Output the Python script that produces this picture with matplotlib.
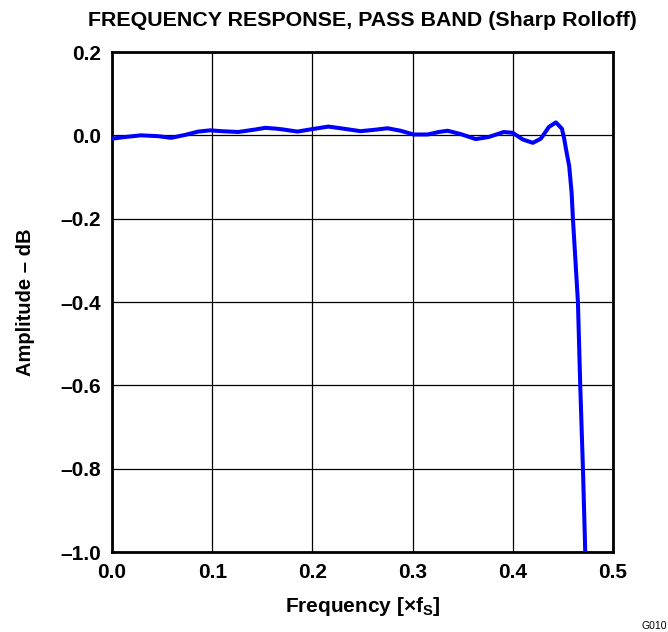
import matplotlib
matplotlib.use('Agg')
from matplotlib import pyplot as plt

# values
freq = [0.000, 0.013, 0.029, 0.046, 0.059, 0.073, 0.086, 0.098, 0.109, 0.126,
        0.143, 0.153, 0.164, 0.171, 0.185, 0.200, 0.216, 0.231, 0.248, 0.261,
        0.275, 0.288, 0.301, 0.315, 0.326, 0.335, 0.348, 0.363, 0.376, 0.391,
        0.400, 0.410, 0.420, 0.428, 0.436, 0.443, 0.449, 0.4513, 0.453, 0.4563,
        0.4587, 0.460, 0.465, 0.4673, 0.470, 0.4723, 0.4735]
amplitude = [-0.008, -0.004, 0.000, -0.002, -0.006, 0.001, 0.009, 0.012, 0.010, 0.008,
             0.014, 0.018, 0.016, 0.014, 0.009, 0.015, 0.021, 0.016, 0.010, 0.013,
             0.017, 0.011, 0.002, 0.002, 0.008, 0.011, 0.003, -0.009, -0.004, 0.008,
             0.006, -0.010, -0.018, -0.008, 0.020, 0.031, 0.016, -0.008, -0.032, -0.074,
             -0.138, -0.200, -0.400, -0.600, -0.800, -1.000, -1.050]

x_ticks = [0.0, 0.1, 0.2, 0.3, 0.4, 0.5]
x_labels = ['0.0', '0.1', '0.2', '0.3', '0.4', '0.5']
y_ticks = [-1.0, -0.8, -0.6, -0.4, -0.2, 0.0, 0.2]
y_labels = ['\u20131.0', '\u20130.8', '\u20130.6', '\u20130.4', '\u20130.2', '0.0', '0.2']

plt.rcParams['font.family'] = ['Liberation Sans', 'DejaVu Sans']
plt.rcParams['mathtext.fontset'] = 'custom'
plt.rcParams['mathtext.rm'] = 'Liberation Sans:bold'
plt.rcParams['mathtext.it'] = 'Liberation Sans:bold'
plt.rcParams['mathtext.bf'] = 'Liberation Sans:bold'

fig = plt.figure(figsize=(6.68, 6.32), dpi=100)
ax = fig.add_axes([112 / 668, 1 - 552 / 632, 501 / 668, 500 / 632])

ax.plot(freq, amplitude, color='#0000ff', linewidth=2.9, solid_capstyle='round', zorder=3)

ax.set_xlim(0, 0.5)
ax.set_ylim(-1.0, 0.2)
ax.set_xticks(x_ticks)
ax.set_xticklabels(x_labels)
ax.set_yticks(y_ticks)
ax.set_yticklabels(y_labels)
ax.tick_params(length=0, labelsize=15)
ax.tick_params(axis='y', pad=8)
ax.tick_params(axis='x', pad=8)
for lab in ax.get_xticklabels() + ax.get_yticklabels():
    lab.set_fontweight('bold')
ax.grid(True, color='black', linewidth=0.9)
for sp in ax.spines.values():
    sp.set_linewidth(2.0)

ax.set_xlabel('Frequency [\u00d7f$_\\mathrm{S}$]', fontsize=15, fontweight='bold', labelpad=9)
ax.set_ylabel('Amplitude \u2013 dB', fontsize=14.5, fontweight='bold', labelpad=18)
ax.set_title('FREQUENCY RESPONSE, PASS BAND (Sharp Rolloff)', fontsize=15.4,
             fontweight='bold', pad=19)
fig.text(0.998, 0.002, 'G010', fontsize=7.5, ha='right', va='bottom')

fig.savefig('out.png', dpi=100)
